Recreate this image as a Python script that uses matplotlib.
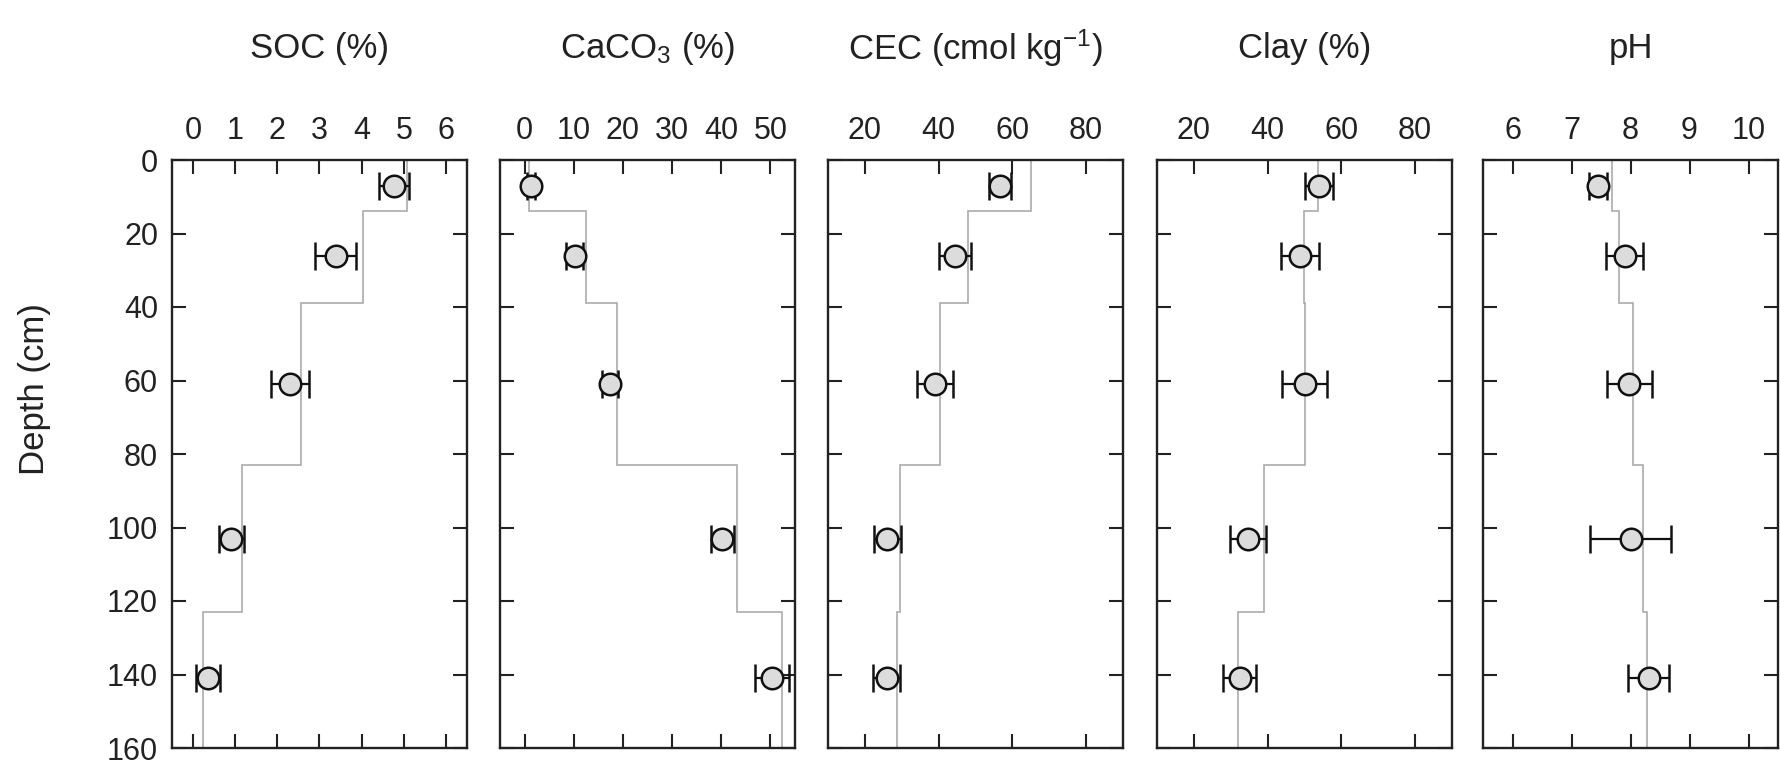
import numpy as np
import matplotlib
matplotlib.use('Agg')
import matplotlib.pyplot as plt

plt.rcParams['font.family'] = ['Liberation Sans', 'DejaVu Sans']
plt.rcParams['mathtext.fontset'] = 'custom'
plt.rcParams['mathtext.rm'] = 'Liberation Sans'
plt.rcParams['mathtext.it'] = 'Liberation Sans'

depth_edges = [0, 14, 39, 83, 123, 160]
depth_mid = [7, 26, 61, 103, 141]

soc_mean = [4.77, 3.38, 2.30, 0.91, 0.35]
soc_err = [0.35, 0.48, 0.44, 0.30, 0.28]
soc_horizon = [5.07, 4.03, 2.55, 1.16, 0.23]

caco3_mean = [1.3, 10.2, 17.3, 40.2, 50.3]
caco3_err = [0.8, 1.7, 1.6, 2.3, 3.5]
caco3_horizon = [0.8, 12.5, 18.7, 43.3, 52.4]

cec_mean = [56.6, 44.4, 39.0, 26.1, 25.9]
cec_err = [3.0, 4.3, 4.8, 3.7, 3.6]
cec_horizon = [65.1, 48.1, 40.3, 29.5, 28.6]

clay_mean = [53.9, 48.8, 50.0, 34.6, 32.4]
clay_err = [3.9, 5.1, 6.0, 4.9, 4.5]
clay_horizon = [53.6, 49.8, 50.2, 38.9, 31.9]

ph_mean = [7.45, 7.90, 7.98, 8.00, 8.31]
ph_err = [0.15, 0.32, 0.38, 0.68, 0.35]
ph_horizon = [7.68, 7.81, 8.05, 8.21, 8.28]

titles = ['SOC (%)', 'CaCO$_3$ (%)', 'CEC (cmol kg$^{-1}$)', 'Clay (%)', 'pH']
depth_ticks = [0, 20, 40, 60, 80, 100, 120, 140, 160]

panels = [
    (soc_mean, soc_err, soc_horizon, (-0.5, 6.5), [0, 1, 2, 3, 4, 5, 6]),
    (caco3_mean, caco3_err, caco3_horizon, (-5, 55), [0, 10, 20, 30, 40, 50]),
    (cec_mean, cec_err, cec_horizon, (10, 90), [20, 40, 60, 80]),
    (clay_mean, clay_err, clay_horizon, (10, 90), [20, 40, 60, 80]),
    (ph_mean, ph_err, ph_horizon, (5.5, 10.5), [6, 7, 8, 9, 10]),
]

W, H = 1780, 766
fig = plt.figure(figsize=(W / 100, H / 100), dpi=100)
lefts = [172, 500, 828, 1157, 1483]
top_px, bottom_px, width_px = 160, 748, 295
text_color = '#222222'

for i, (mean, err, horizon, xlim, xticks) in enumerate(panels):
    ax = fig.add_axes([lefts[i] / W, 1 - bottom_px / H, width_px / W, (bottom_px - top_px) / H])
    ax.stairs(horizon, depth_edges, orientation='horizontal', baseline=None,
              color='#ababab', lw=1.2, zorder=1)
    ax.errorbar(mean, depth_mid, xerr=err, fmt='o', ms=15.5, mfc='#dcdcdc', mec='#111111',
                mew=1.8, ecolor='#111111', elinewidth=1.6, capsize=10, capthick=1.6, zorder=3)
    ax.set_xlim(*xlim)
    ax.set_ylim(160, 0)
    ax.set_xticks(xticks)
    ax.set_yticks(depth_ticks)
    ax.tick_params(direction='in', top=True, bottom=True, left=True, right=True,
                   labeltop=True, labelbottom=False, length=10, width=1.5,
                   labelsize=22, pad=10, colors='#222222', labelcolor=text_color)
    if i > 0:
        ax.tick_params(labelleft=False)
    for s in ax.spines.values():
        s.set_linewidth(1.7)
        s.set_color('#222222')
    ax.text(0.5, 1.19, titles[i], transform=ax.transAxes, ha='center', va='center',
            fontsize=25, color=text_color)
    if i == 0:
        ax.set_ylabel('Depth (cm)', fontsize=25, color=text_color)
        ax.yaxis.set_label_coords(-0.41, 0.61)

fig.savefig('out.png', dpi=100)
